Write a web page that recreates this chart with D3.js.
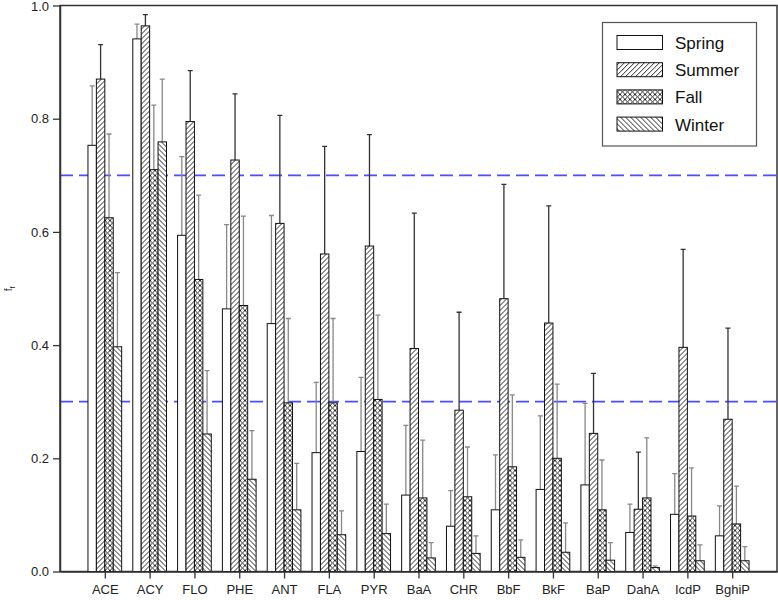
<!DOCTYPE html>
<html>
<head>
<meta charset="utf-8">
<script src="https://cdn.jsdelivr.net/npm/d3@7"></script>
<style>
  body { margin: 0; background: #fff; }
  svg text { font-family: "Liberation Sans", Arial, Helvetica, sans-serif; }
</style>
</head>
<body>
<div id="graph"></div>
<script>
//categories and seasons
var compounds = ["ACE","ACY","FLO","PHE","ANT","FLA","PYR","BaA","CHR","BbF","BkF","BaP","DahA","IcdP","BghiP"]
var seasons = ["Spring","Summer","Fall","Winter"]

//mean values, one array per season
var spring = [0.753,0.941,0.594,0.464,0.438,0.210,0.212,0.135,0.080,0.109,0.145,0.153,0.069,0.101,0.063]
var summer = [0.870,0.964,0.795,0.727,0.615,0.561,0.575,0.394,0.285,0.482,0.439,0.244,0.110,0.396,0.269]
var fall   = [0.625,0.710,0.516,0.470,0.298,0.298,0.304,0.130,0.132,0.185,0.200,0.109,0.130,0.098,0.084]
var winter = [0.397,0.759,0.243,0.163,0.109,0.065,0.067,0.024,0.032,0.025,0.034,0.020,0.007,0.019,0.019]

//top of the error bars
var springErr = [0.858,0.967,0.733,0.613,0.629,0.334,0.343,0.258,0.143,0.206,0.275,0.297,0.119,0.173,0.116]
var summerErr = [0.931,0.984,0.885,0.844,0.806,0.751,0.772,0.633,0.458,0.684,0.646,0.350,0.211,0.569,0.430]
var fallErr   = [0.773,0.824,0.665,0.628,0.447,0.447,0.453,0.232,0.220,0.312,0.331,0.197,0.236,0.183,0.151]
var winterErr = [0.528,0.870,0.355,0.249,0.191,0.107,0.119,0.051,0.063,0.056,0.086,0.051,0.010,0.047,0.044]

var yTicks = [0, 0.2, 0.4, 0.6, 0.8, 1.0]
var refLines = [0.3, 0.7]

var means = [spring, summer, fall, winter]
var errs = [springErr, summerErr, fallErr, winterErr]

//margins
var margin = {top: 5.5, right: 1, bottom: 28.5, left: 60},
  width = 778 - margin.left - margin.right,
  height = 600 - margin.top - margin.bottom;

var svg = d3.select("#graph")
.append("svg")
  .attr("width", 778)
  .attr("height", 600)

//hatch patterns
var defs = svg.append("defs")
function hatch(id, paths) {
  var p = defs.append("pattern")
    .attr("id", id)
    .attr("patternUnits", "userSpaceOnUse")
    .attr("width", 5).attr("height", 5)
  p.append("rect").attr("width", 5).attr("height", 5).attr("fill", "white")
  paths.forEach(function(d){
    p.append("path").attr("d", d).attr("stroke", "#111").attr("stroke-width", 0.9).attr("fill", "none")
  })
}
var fwd = "M-1,1 L1,-1 M0,5 L5,0 M4,6 L6,4"
var back = "M-1,4 L1,6 M0,0 L5,5 M4,-1 L6,1"
hatch("p-summer", [fwd])
hatch("p-fall", [fwd, back])
hatch("p-winter", [back])
var fills = ["white", "url(#p-summer)", "url(#p-fall)", "url(#p-winter)"]
var errColors = ["#888", "#333", "#888", "#888"]

var g = svg.append("g")
  .attr("transform", "translate(" + margin.left + "," + margin.top + ")")

//scales
var x = d3.scaleLinear()
  .domain([0, compounds.length + 1])
  .range([0, width])
var y = d3.scaleLinear()
  .domain([0, 1])
  .range([height, 0])

var barW = (x(1) - x(0)) * 0.188

//frame
g.append("rect")
  .attr("x", 0).attr("y", 0)
  .attr("width", width).attr("height", height)
  .attr("fill", "none")
  .attr("stroke", "#333")
  .attr("stroke-width", 1.5)

//reference lines
g.selectAll(".ref")
.data(refLines)
.enter()
.append("line")
  .attr("x1", 0)
  .attr("x2", width)
  .attr("y1", function(d){ return y(d) })
  .attr("y2", function(d){ return y(d) })
  .attr("stroke", "#4d4dff")
  .attr("stroke-width", 1.8)
  .attr("stroke-dasharray", "13,6")

//bars + error bars, one group per season
seasons.forEach(function(s, k){
  var off = (k - 2) * barW
  var layer = g.append("g")

  //error bar (upper half only)
  layer.selectAll(".err")
  .data(compounds)
  .enter()
  .append("path")
    .attr("d", function(d, i){
      var cx = x(i + 1) + off + barW / 2
      return "M" + cx + "," + y(means[k][i]) + "V" + y(errs[k][i]) +
        "M" + (cx - 2.5) + "," + y(errs[k][i]) + "H" + (cx + 2.5)
    })
    .attr("stroke", errColors[k])
    .attr("stroke-width", 1.3)
    .attr("fill", "none")

  layer.selectAll(".bar")
  .data(compounds)
  .enter()
  .append("rect")
    .attr("x", function(d, i){ return x(i + 1) + off })
    .attr("y", function(d, i){ return y(means[k][i]) })
    .attr("width", barW)
    .attr("height", function(d, i){ return y(0) - y(means[k][i]) })
    .attr("fill", fills[k])
    .attr("stroke", "#111")
    .attr("stroke-width", 1)
})

//y axis
var yAxis = g.append("g")
  .call(d3.axisLeft(y).tickValues(yTicks).tickFormat(d3.format(".1f")).tickSize(7).tickSizeOuter(0).tickPadding(4))
yAxis.select(".domain").attr("stroke", "#333").attr("stroke-width", 1.5)
yAxis.selectAll(".tick line").attr("stroke", "#333").attr("stroke-width", 1.3)
yAxis.selectAll("text").attr("font-size", 13).attr("fill", "#222")
yAxis.selectAll(".tick text").filter(function(d){ return d === 1 }).attr("dy", "0.38em").attr("y", 0.5)

//x axis
var xAxis = g.append("g")
  .attr("transform", "translate(0," + height + ")")
  .call(d3.axisBottom(x)
    .tickValues(d3.range(1, compounds.length + 1))
    .tickFormat(function(d){ return compounds[d - 1] })
    .tickSize(7).tickSizeOuter(0).tickPadding(6))
xAxis.select(".domain").attr("stroke", "#333").attr("stroke-width", 1.5)
xAxis.selectAll(".tick line").attr("stroke", "#333").attr("stroke-width", 1.3)
xAxis.selectAll("text").attr("font-size", 13).attr("fill", "#222")

//y label
var yl = svg.append("text")
  .attr("transform", "translate(12,289) rotate(-90)")
  .attr("text-anchor", "middle")
  .attr("font-size", 10)
  .attr("fill", "#222")
yl.append("tspan").text("f")
yl.append("tspan").attr("font-size", 7).attr("dy", 3).text("f")

//legend
var legend = svg.append("g")
legend.append("rect")
  .attr("x", 602.5).attr("y", 22.5)
  .attr("width", 154).attr("height", 123.5)
  .attr("fill", "white")
  .attr("stroke", "#555")
  .attr("stroke-width", 1.2)
var item = legend.selectAll(".item")
.data(seasons)
.enter()
.append("g")
  .attr("transform", function(d, i){ return "translate(0," + (i * 27.2) + ")" })
item.append("rect")
  .attr("x", 617).attr("y", 35.5)
  .attr("width", 45.5).attr("height", 14)
  .attr("fill", function(d, i){ return fills[i] })
  .attr("stroke", "#111")
  .attr("stroke-width", 1)
item.append("text")
  .attr("x", 675).attr("y", 49)
  .attr("font-size", 17)
  .attr("fill", "#111")
  .text(function(d){ return d })
</script>
</body>
</html>
